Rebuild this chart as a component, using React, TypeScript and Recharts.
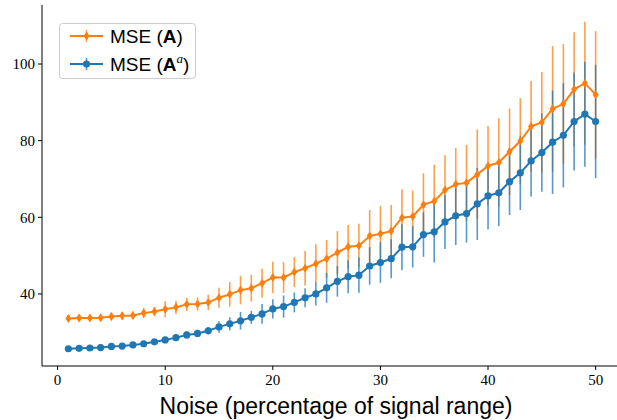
import { LineChart, Line, XAxis, YAxis, ErrorBar } from "recharts";

const noise = [
    1, 2, 3, 4, 5, 6, 7, 8, 9, 10,
    11, 12, 13, 14, 15, 16, 17, 18, 19, 20,
    21, 22, 23, 24, 25, 26, 27, 28, 29, 30,
    31, 32, 33, 34, 35, 36, 37, 38, 39, 40,
    41, 42, 43, 44, 45, 46, 47, 48, 49, 50
];

const mseA = [
    33.6, 33.7, 33.7, 33.8, 34.1, 34.3, 34.4, 35.0, 35.4, 36.0,
    36.5, 37.3, 37.4, 37.8, 39.0, 39.9, 41.0, 41.5, 42.8, 44.3,
    44.3, 45.7, 46.7, 47.9, 49.2, 50.8, 52.3, 52.6, 55.1, 55.7,
    56.4, 59.9, 60.2, 63.3, 64.2, 67.1, 68.6, 69.0, 71.2, 73.4,
    74.3, 77.1, 79.9, 83.7, 84.8, 88.3, 89.6, 93.4, 95.0, 92.0
];

const errA = [
    0.9, 0.9, 0.9, 0.9, 1.0, 1.0, 1.0, 1.3, 1.2, 2.1,
    1.7, 1.7, 1.7, 2.0, 2.6, 3.2, 3.7, 3.5, 3.8, 4.1,
    4.0, 3.9, 4.5, 5.1, 4.9, 5.6, 5.7, 5.7, 6.8, 7.3,
    6.8, 7.4, 6.7, 8.2, 9.5, 9.1, 9.5, 9.9, 11.7, 10.4,
    11.5, 11.3, 11.2, 11.9, 13.1, 16.4, 15.6, 14.9, 16.0, 16.6
];

const mseAa = [
    25.7, 25.8, 25.9, 26.0, 26.3, 26.4, 26.7, 27.0, 27.5, 28.0,
    28.6, 29.3, 29.7, 30.4, 31.4, 32.2, 33.0, 33.9, 34.8, 36.1,
    36.7, 37.8, 39.0, 40.0, 41.6, 43.3, 44.5, 44.9, 47.3, 48.2,
    49.2, 52.2, 52.3, 55.5, 56.2, 58.8, 60.4, 61.0, 63.5, 65.6,
    66.4, 69.3, 71.6, 74.7, 76.9, 79.6, 81.4, 85.0, 86.9, 85.0
];

const errAa = [
    0.3, 0.3, 0.3, 0.3, 0.4, 0.4, 0.5, 0.5, 0.6, 0.7,
    0.8, 0.9, 0.9, 1.0, 1.5, 1.7, 2.3, 1.7, 2.6, 2.5,
    2.9, 2.6, 2.5, 3.0, 3.9, 4.0, 4.3, 4.6, 4.9, 5.3,
    5.1, 6.0, 5.4, 5.8, 8.0, 7.1, 7.6, 7.6, 9.4, 8.7,
    8.7, 8.7, 9.7, 9.3, 10.2, 13.5, 13.6, 12.8, 13.7, 14.8
];

const xTicks = [0, 10, 20, 30, 40, 50];
const yTicks = [40, 60, 80, 100];

const ORANGE = "#ff7f0e";
const BLUE = "#1f77b4";

const data = noise.map((n, i) => ({
    noise: n,
    mseA: mseA[i],
    errA: errA[i],
    mseAa: mseAa[i],
    errAa: errAa[i]
}));

const xDomain = [-1.45, 52.45];
const yDomain = [21.2, 115.4];

const tickStyle = { fontSize: 15, fontFamily: "'Liberation Serif', serif", fill: "#000" };

function DiamondDot(props: any) {
    const { cx, cy, index } = props;
    if (cx == null || cy == null) return null;
    return (
        <polygon
            key={`dA-${index}`}
            points={`${cx},${cy - 4.5} ${cx + 3},${cy} ${cx},${cy + 4.5} ${cx - 3},${cy}`}
            fill={ORANGE}
        />
    );
}

function CircleDot(props: any) {
    const { cx, cy, index } = props;
    if (cx == null || cy == null) return null;
    return <circle key={`dB-${index}`} cx={cx} cy={cy} r={3.6} fill={BLUE} />;
}

function XLabel(props: any) {
    const vb = props.viewBox || {};
    return (
        <text
            x={vb.x + vb.width / 2 + 4}
            y={414}
            textAnchor="middle"
            fontSize={23}
            fontFamily="'Liberation Sans', Arial, sans-serif"
            fill="#000"
        >
            Noise (percentage of signal range)
        </text>
    );
}

function LegendBox() {
    const font = "'Liberation Sans', Arial, sans-serif";
    return (
        <svg width={617} height={420} style={{ position: "absolute", left: 0, top: 0, pointerEvents: "none" }}>
            <rect x={59.5} y={23.5} width={136} height={55} rx={3} fill="#fff" fillOpacity={0.8} stroke="#cccccc" />
            <line x1={70} x2={103} y1={36} y2={36} stroke={ORANGE} strokeWidth={2} />
            <line x1={86.5} x2={86.5} y1={30} y2={42} stroke={ORANGE} strokeWidth={1.6} strokeOpacity={0.75} />
            <polygon points="86.5,31.5 89.5,36 86.5,40.5 83.5,36" fill={ORANGE} />
            <text x={110} y={36} dy="0.36em" fontSize={19} fontFamily={font} fill="#000">
                MSE (<tspan fontWeight="bold">A</tspan>)
            </text>
            <line x1={70} x2={103} y1={64} y2={64} stroke={BLUE} strokeWidth={2} />
            <line x1={86.5} x2={86.5} y1={58} y2={70} stroke={BLUE} strokeWidth={1.6} strokeOpacity={0.75} />
            <circle cx={86.5} cy={64} r={3.6} fill={BLUE} />
            <text x={110} y={64} dy="0.36em" fontSize={19} fontFamily={font} fill="#000">
                MSE (<tspan fontWeight="bold">A</tspan>
                <tspan fontFamily="'Liberation Serif', serif" fontStyle="italic" fontSize={13} dy={-8}>a</tspan>
                <tspan dy={8}>)</tspan>
            </text>
        </svg>
    );
}

export default function App() {
    return (
        <div style={{ position: "absolute", left: 0, top: 0, width: 617, height: 420, overflow: "hidden", background: "#fff" }}>
            <LineChart width={630} height={420} data={data} margin={{ top: 5, right: 8, bottom: 0, left: 0 }}>
                <XAxis
                    dataKey="noise"
                    type="number"
                    domain={xDomain}
                    ticks={xTicks}
                    allowDataOverflow
                    height={54}
                    stroke="#000"
                    tickSize={4}
                    tickMargin={4}
                    tick={tickStyle}
                    label={<XLabel />}
                />
                <XAxis
                    xAxisId="top"
                    orientation="top"
                    dataKey="noise"
                    type="number"
                    domain={xDomain}
                    allowDataOverflow
                    height={0}
                    stroke="#000"
                    tick={false}
                    tickLine={false}
                />
                <YAxis
                    type="number"
                    domain={yDomain}
                    ticks={yTicks}
                    allowDataOverflow
                    width={42}
                    stroke="#000"
                    tickSize={4}
                    tickMargin={3}
                    tick={tickStyle}
                />
                <Line
                    dataKey="mseA"
                    stroke={ORANGE}
                    strokeWidth={2}
                    dot={DiamondDot}
                    activeDot={false}
                    isAnimationActive={false}
                >
                    <ErrorBar dataKey="errA" width={0} stroke={ORANGE} strokeWidth={1.6} strokeOpacity={0.75} direction="y" />
                </Line>
                <Line
                    dataKey="mseAa"
                    stroke={BLUE}
                    strokeWidth={2}
                    dot={CircleDot}
                    activeDot={false}
                    isAnimationActive={false}
                >
                    <ErrorBar dataKey="errAa" width={0} stroke={BLUE} strokeWidth={1.6} strokeOpacity={0.75} direction="y" />
                </Line>
            </LineChart>
            <LegendBox />
        </div>
    );
}
